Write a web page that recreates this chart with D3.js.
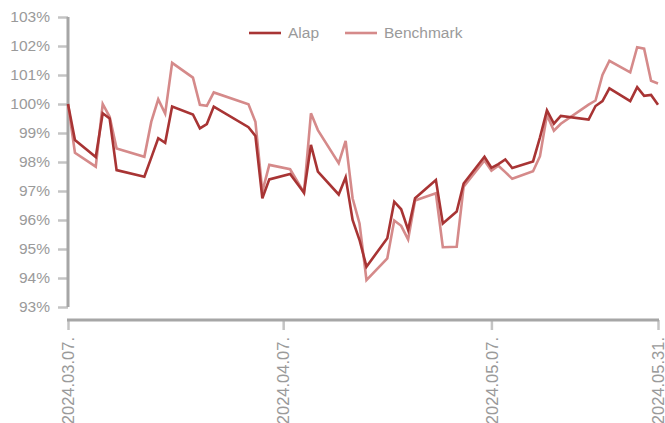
<!DOCTYPE html>
<html>
<head>
<meta charset="utf-8">
<script src="https://cdn.jsdelivr.net/npm/d3@7"></script>
<style>
	body { margin: 0; background: #fff; }
</style>
</head>
<body>
<div id="chart-area"></div>
<script>
// Trading days
var dates = ["2024-03-07","2024-03-08","2024-03-11","2024-03-12","2024-03-13","2024-03-14",
	"2024-03-18","2024-03-19","2024-03-20","2024-03-21","2024-03-22","2024-03-25","2024-03-26",
	"2024-03-27","2024-03-28","2024-04-02","2024-04-03","2024-04-04","2024-04-05","2024-04-08",
	"2024-04-10","2024-04-11","2024-04-12","2024-04-15","2024-04-16","2024-04-17","2024-04-18",
	"2024-04-19","2024-04-22","2024-04-23","2024-04-24","2024-04-25","2024-04-26","2024-04-29",
	"2024-04-30","2024-05-02","2024-05-03","2024-05-06","2024-05-07","2024-05-08","2024-05-09",
	"2024-05-10","2024-05-13","2024-05-14","2024-05-15","2024-05-16","2024-05-17","2024-05-21",
	"2024-05-22","2024-05-23","2024-05-24","2024-05-27","2024-05-28","2024-05-29","2024-05-30",
	"2024-05-31"];

// Series values (%)
var alap = [100.0, 98.76, 98.17, 99.68, 99.5, 97.72,
	97.49, 98.15, 98.82, 98.66, 99.91, 99.64, 99.16,
	99.31, 99.91, 99.2, 98.9, 96.75, 97.4, 97.59,
	96.94, 98.59, 97.67, 96.88, 97.47, 96.0, 95.31,
	94.39, 95.37, 96.63, 96.37, 95.66, 96.75, 97.38,
	95.88, 96.29, 97.26, 98.18, 97.8, 97.93, 98.09,
	97.79, 98.02, 98.85, 99.78, 99.32, 99.59, 99.46,
	99.93, 100.1, 100.54, 100.1, 100.58, 100.28, 100.31,
	99.97];

var benchmark = [100.0, 98.32, 97.84, 100.0, 99.56, 98.47,
	98.18, 99.39, 100.16, 99.67, 101.42, 100.91, 99.97,
	99.94, 100.4, 99.99, 99.39, 96.98, 97.9, 97.75,
	96.94, 99.68, 99.1, 97.96, 98.73, 96.75, 95.88,
	93.93, 94.68, 95.98, 95.8, 95.33, 96.67, 96.92,
	95.06, 95.08, 97.15, 98.05, 97.7, 97.87, 97.65,
	97.42, 97.68, 98.2, 99.62, 99.08, 99.32, 99.98,
	100.12, 101.0, 101.49, 101.09, 101.96, 101.91, 100.8,
	100.71];

var seriesNames = ["Alap", "Benchmark"];
var seriesColors = ["#a83434", "#d58a8a"];

var yTicks = [93, 94, 95, 96, 97, 98, 99, 100, 101, 102, 103];
var xTicks = ["2024-03-07", "2024-04-07", "2024-05-07", "2024-05-31"];

var parseDate = d3.timeParse("%Y-%m-%d");
var fmtDate = d3.timeFormat("%Y.%m.%d.");

// Canvas
var canvasWidth = 665;
var canvasHeight = 423;

var svg = d3.select("#chart-area")
	.append("svg")
	.attr("width", canvasWidth)
	.attr("height", canvasHeight)
	.style("font-family", "'Liberation Sans', Arial, sans-serif");

// Scales
var x = d3.scaleTime()
	.domain([parseDate(dates[0]), parseDate(dates[dates.length - 1])])
	.range([68, 658]);

var y = d3.scaleLinear()
	.domain([93, 103])
	.range([307, 17]);

var axisColor = "#a6a6a6";
var labelColor = "#9a9a9a";

// Y axis
var yAxis = svg.append("g")
	.attr("transform", "translate(68,0)")
	.call(d3.axisLeft(y).tickValues(yTicks).tickSize(10).tickPadding(8)
		.tickFormat(function(d){ return d + "%"; }));

yAxis.select(".domain").remove();
yAxis.append("line")
	.attr("x1", 0).attr("x2", 0)
	.attr("y1", y(103)).attr("y2", y(93))
	.attr("stroke", axisColor)
	.attr("stroke-width", 3);
yAxis.selectAll(".tick line")
	.attr("stroke", "#c4c4c4")
	.attr("stroke-width", 2.5);
yAxis.selectAll(".tick text")
	.attr("fill", labelColor)
	.attr("font-size", "15.5px");

// X axis
var xAxis = svg.append("g")
	.attr("transform", "translate(0,320)")
	.call(d3.axisBottom(x).tickValues(xTicks.map(parseDate)).tickSize(10).tickFormat(fmtDate));

xAxis.select(".domain").remove();
xAxis.append("line")
	.attr("x1", 67).attr("x2", 659)
	.attr("y1", 0).attr("y2", 0)
	.attr("stroke", axisColor)
	.attr("stroke-width", 3);
xAxis.selectAll(".tick line")
	.attr("stroke", "#c4c4c4")
	.attr("stroke-width", 2.5);
xAxis.selectAll(".tick text")
	.attr("fill", labelColor)
	.attr("font-size", "16.5px")
	.attr("text-anchor", "end")
	.attr("transform", "rotate(-90)")
	.attr("x", -17)
	.attr("y", 0)
	.attr("dy", "0.35em");

// Lines
var line = d3.line()
	.x(function(d){ return x(d.date); })
	.y(function(d){ return y(d.value); });

function toPoints(vals) {
	return dates.map(function(d, i){
		return { date: parseDate(d), value: vals[i] };
	});
}

var allSeries = [benchmark, alap];
var allColors = [seriesColors[1], seriesColors[0]];

allSeries.forEach(function(vals, i){
	svg.append("path")
		.datum(toPoints(vals))
		.attr("fill", "none")
		.attr("stroke", allColors[i])
		.attr("stroke-width", 2.6)
		.attr("stroke-linejoin", "miter")
		.attr("d", line);
});

// Legend
var legendX = [249, 345];
seriesNames.forEach(function(name, i){
	var g = svg.append("g")
		.attr("transform", "translate(" + legendX[i] + ",33)");
	g.append("line")
		.attr("x1", 0).attr("x2", 32)
		.attr("stroke", seriesColors[i])
		.attr("stroke-width", 2.6);
	g.append("text")
		.attr("x", 39)
		.attr("y", 0)
		.attr("dy", "0.35em")
		.attr("font-size", "15.5px")
		.attr("fill", labelColor)
		.text(name);
});
</script>
</body>
</html>
